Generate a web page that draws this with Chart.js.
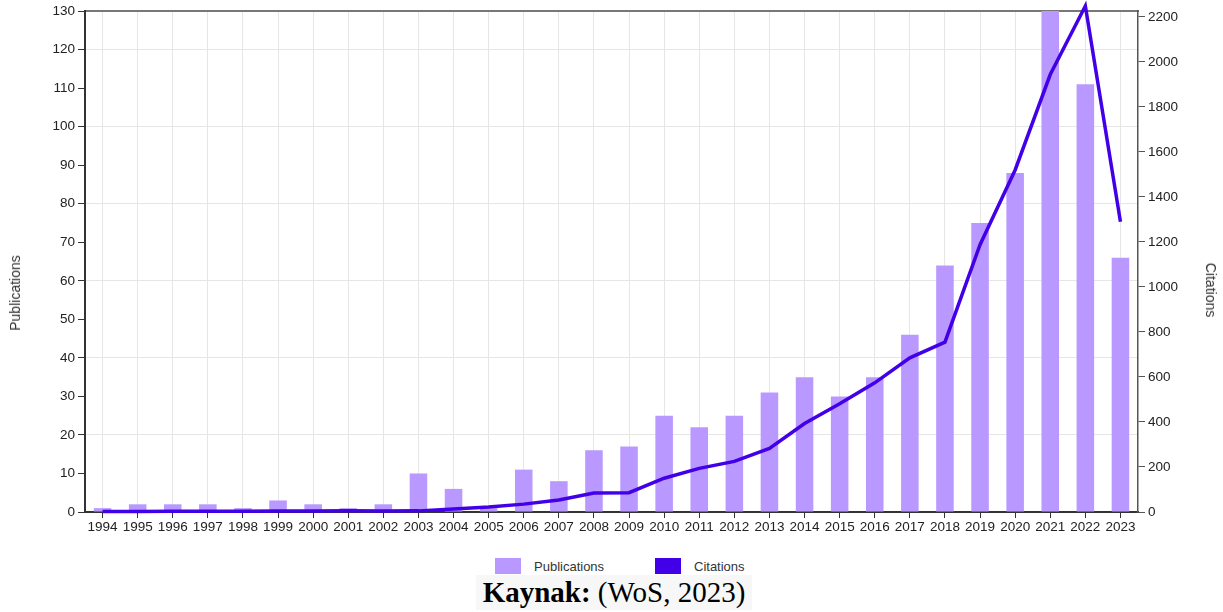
<!DOCTYPE html>
<html>
<head>
<meta charset="utf-8">
<script src="https://cdn.jsdelivr.net/npm/chart.js@4.4.0/dist/chart.umd.min.js"></script>
<style>
  html, body { margin: 0; padding: 0; background: #ffffff; }
  #wrap { position: relative; width: 1223px; height: 612px; overflow: hidden; background: #fff; }
  #c { position: absolute; left: 0; top: 0; }
  .axt { position: absolute; font-family: "Liberation Sans", Arial, sans-serif; font-size: 14px; color: #333; white-space: nowrap; }
  #ytitle { left: 15px; top: 293px; transform: translate(-50%, -50%) rotate(-90deg); }
  #y1title { left: 1211px; top: 290px; transform: translate(-50%, -50%) rotate(90deg); }
  .leg { position: absolute; top: 558px; height: 16px; display: flex; align-items: center; font-family: "Liberation Sans", Arial, sans-serif; font-size: 13px; color: #333; }
  .leg .box { width: 26px; height: 16px; margin-right: 13px; }
  #cap { position: absolute; left: 476px; top: 575px; width: 276px; height: 35px; background: #f7f7f7; text-align: center; font-family: "Liberation Serif", "Times New Roman", serif; font-size: 29px; line-height: 35px; color: #000; }
</style>
</head>
<body>
<div id="wrap">
  <canvas id="c" width="1223" height="545"></canvas>
  <div class="axt" id="ytitle">Publications</div>
  <div class="axt" id="y1title">Citations</div>
  <div class="leg" id="leg1" style="left:495px;"><div class="box" id="lb1"></div><span>Publications</span></div>
  <div class="leg" id="leg2" style="left:655px;"><div class="box" id="lb2"></div><span>Citations</span></div>
  <div id="cap"><b>Kaynak:</b> (WoS, 2023)</div>
</div>
<script>
const years = ["1994","1995","1996","1997","1998","1999","2000","2001","2002","2003","2004","2005","2006","2007","2008","2009","2010","2011","2012","2013","2014","2015","2016","2017","2018","2019","2020","2021","2022","2023"];
const publications = [1,2,2,2,1,3,2,1,2,10,6,1,11,8,16,17,25,22,25,31,35,30,35,46,64,75,88,131,111,66];
const citations = [2,2,3,3,3,4,4,5,4,5,13,22,35,53,84,86,150,194,225,283,393,481,574,685,755,1188,1520,1944,2249,1290];
const pubTicks = [0,10,20,30,40,50,60,70,80,90,100,110,120,130];
const citTicks = [0,200,400,600,800,1000,1200,1400,1600,1800,2000,2200];
const pubMax = 130;
const citMax = 2226;

const barColor = '#b999ff';
const lineColor = '#4200e8';
document.getElementById('lb1').style.background = barColor;
document.getElementById('lb2').style.background = lineColor;

const W = 1223, H = 545;
const tickFont = { family: '"Liberation Sans", Arial, sans-serif', size: 13.5 };

new Chart(document.getElementById('c'), {
  data: {
    labels: years,
    datasets: [
      {
        type: 'line', label: 'Citations', data: citations, yAxisID: 'y1',
        borderColor: lineColor, backgroundColor: lineColor, borderWidth: 3.5,
        pointRadius: 0, tension: 0, order: 0, clip: false
      },
      {
        type: 'bar', label: 'Publications', data: publications, yAxisID: 'y',
        backgroundColor: barColor, borderWidth: 0,
        barPercentage: 0.5, categoryPercentage: 1.0, order: 1
      }
    ]
  },
  options: {
    responsive: false,
    animation: false,
    layout: { padding: { top: 7, left: 0, right: 0, bottom: 0 } },
    plugins: { legend: { display: false }, tooltip: { enabled: false }, title: { display: false } },
    scales: {
      x: {
        type: 'category', position: 'bottom',
        offset: true,
        grid: { offset: false, color: '#e6e6e6', tickColor: '#333', tickLength: 6, lineWidth: 1 },
        border: { display: true, color: '#333', width: 2 },
        ticks: { color: '#222', font: tickFont, autoSkip: false, maxRotation: 0, minRotation: 0, padding: 1 },
        afterFit: s => { s.height = H - 512; }
      },
      xTop: {
        type: 'category', position: 'top', labels: years,
        grid: { display: false, drawTicks: false },
        border: { display: true, color: '#777', width: 2 },
        ticks: { display: false },
        afterFit: s => { s.height = 0; }
      },
      y: {
        type: 'linear', position: 'left', min: 0, max: pubMax,
        afterBuildTicks: s => { s.ticks = pubTicks.map(v => ({ value: v })); },
        grid: {
          color: c => (c.tick && c.tick.value % 20 === 0 && c.tick.value !== 0) ? '#e6e6e6' : 'rgba(0,0,0,0)',
          tickColor: '#333', tickLength: 7, lineWidth: 1
        },
        border: { display: true, color: '#333', width: 2 },
        ticks: { color: '#222', font: tickFont, autoSkip: false, padding: 3, callback: v => String(v) },
        afterFit: s => { s.width = 85; }
      },
      y1: {
        type: 'linear', position: 'right', min: 0, max: citMax,
        afterBuildTicks: s => { s.ticks = citTicks.map(v => ({ value: v })); },
        grid: { drawOnChartArea: false, tickColor: '#555', tickLength: 7 },
        border: { display: true, color: '#555', width: 1.5 },
        ticks: { color: '#222', font: tickFont, autoSkip: false, padding: 3, callback: v => String(v) },
        afterFit: s => { s.width = W - 1138; }
      }
    }
  }
});
</script>
</body>
</html>
